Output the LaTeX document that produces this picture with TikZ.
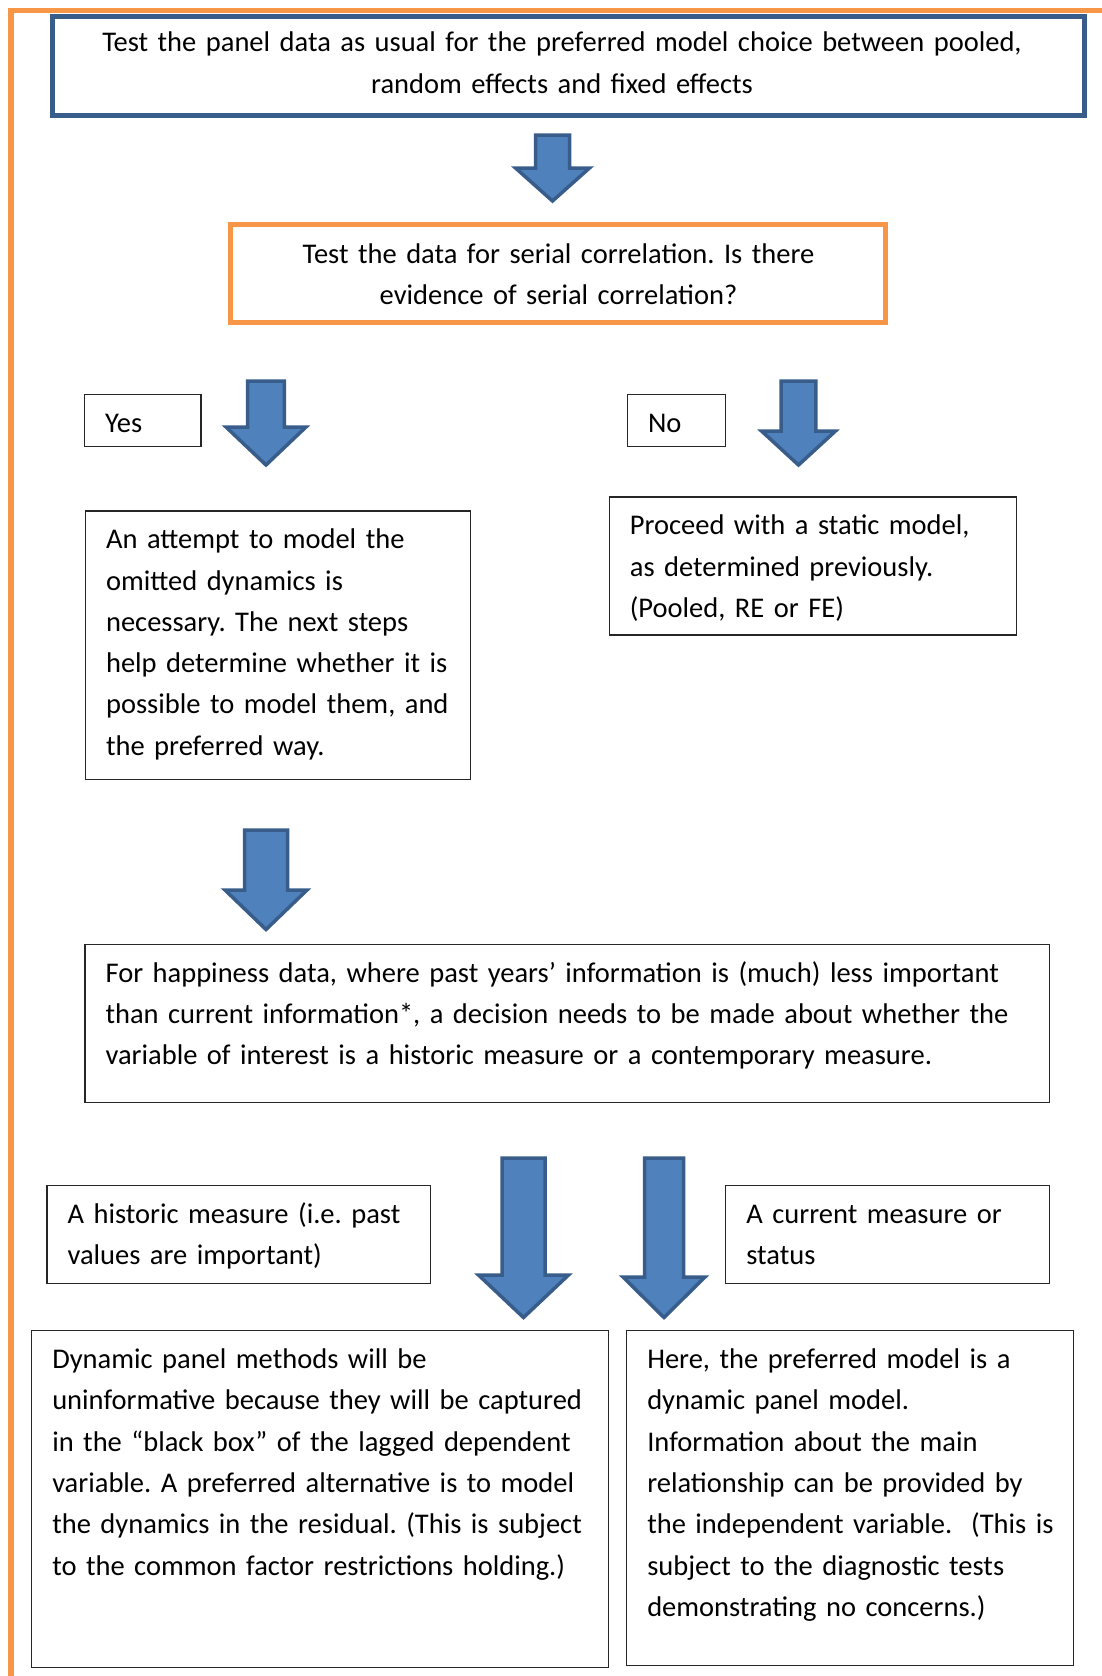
\documentclass[tikz,border=0pt]{standalone}
\usepackage{fontspec}
\setmainfont{Carlito}
\usetikzlibrary{calc}
\definecolor{pageorange}{HTML}{F79646}
\definecolor{darkblue}{HTML}{385D8A}
\definecolor{fillblue}{HTML}{4F81BD}
\tikzset{
  framebox/.style={draw=black!85, line width=1.3pt, rectangle, inner sep=0pt},
  bluebox/.style={draw=darkblue, line width=5pt, rectangle, inner sep=0pt},
  orangebox/.style={draw=pageorange, line width=5pt, rectangle, inner sep=0pt},
  txt/.style={inner sep=0pt, text width=1000pt, align=left, font=\fontsize{28.5}{41.3}\selectfont\frenchspacing},
  ctxt/.style={txt, align=center, anchor=base},
  blockarrow/.style={draw=darkblue, fill=fillblue, line width=3.5pt, line join=miter},
}
% box: style, name, x1, y1, x2, y2 (pixel coordinates, y downward)
\newcommand\boxat[6]{\node[#1, minimum width={(#5)-(#3)}, minimum height={(#6)-(#4)}] (#2) at ({((#3)+(#5))/2},{((#4)+(#6))/2}) {};}
% down block arrow: cx, top, headbase, tip, shaft half width, head half width
\newcommand\downblock[6]{\draw[blockarrow] ({#1-#5},#2) -- ({#1+#5},#2) -- ({#1+#5},#3) -- ({#1+#6},#3) -- (#1,#4) -- ({#1-#6},#3) -- ({#1-#5},#3) -- cycle;}
\begin{document}
\begin{tikzpicture}[x=1pt,y=-1pt]
\useasboundingbox (0,0) rectangle (1102,1676);
\begin{scope}
\clip (0,0) rectangle (1102,1676);
% page border (orange, top and left)
\draw[pageorange, line width=5.5pt, line join=miter] (11,1690) -- (11,10.7) -- (1110,10.7);
\end{scope}

% boxes
\boxat{bluebox}{top}{52}{16}{1084}{115}
\boxat{orangebox}{serial}{230.3}{224}{885}{322}
\boxat{framebox}{yes}{84.5}{394.5}{201}{446.5}
\boxat{framebox}{no}{627.5}{394.5}{725.8}{446.5}
\boxat{framebox}{attempt}{85.5}{511}{470.3}{779.2}
\boxat{framebox}{static}{609.3}{497}{1016.5}{635}
\boxat{framebox}{happy}{85}{944.3}{1049.7}{1102.7}
\boxat{framebox}{historic}{47}{1185.4}{430.8}{1283.7}
\boxat{framebox}{current}{725.8}{1185.4}{1049.7}{1283.7}
\boxat{framebox}{dynamic}{31.7}{1330.8}{608.2}{1667.3}
\boxat{framebox}{here}{626.7}{1330.8}{1073.3}{1665.7}

% texts
\node[ctxt] (ttop) at (562,51.7) {Test the panel data as usual for the preferred model choice between pooled,\\random effects and fixed effects};
\node[ctxt] (tserial) at (558.5,263.3) {Test the data for serial correlation. Is there\\evidence of serial correlation?};
\node[txt, anchor=base west] (tyes) at ($(yes.north west)+(21,38.2)$) {Yes};
\node[txt, anchor=base west] (tno) at ($(no.north west)+(21,38.2)$) {No};
\node[txt, anchor=base west] (tattempt) at ($(attempt.north west)+(21,38.4)$) {An attempt to model the\\omitted dynamics is\\necessary. The next steps\\help determine whether it is\\possible to model them, and\\the preferred way.};
\node[txt, anchor=base west] (tstatic) at ($(static.north west)+(21,38.4)$) {Proceed with a static model,\\as determined previously.\\(Pooled, RE or FE)};
\node[txt, anchor=base west] (thappy) at ($(happy.north west)+(21,38.4)$) {For happiness data, where past years’ information is (much) less important\\than current information*, a decision needs to be made about whether the\\variable of interest is a historic measure or a contemporary measure.};
\node[txt, anchor=base west] (thistoric) at ($(historic.north west)+(21,38.4)$) {A historic measure (i.e. past\\values are important)};
\node[txt, anchor=base west] (tcurrent) at ($(current.north west)+(21,38.4)$) {A current measure or\\status};
\node[txt, anchor=base west] (tdynamic) at ($(dynamic.north west)+(21,38.4)$) {Dynamic panel methods will be\\uninformative because they will be captured\\in the “black box” of the lagged dependent\\variable. A preferred alternative is to model\\the dynamics in the residual. (This is subject\\to the common factor restrictions holding.)};
\node[txt, anchor=base west] (there) at ($(here.north west)+(21,38.4)$) {Here, the preferred model is a\\dynamic panel model.\\Information about the main\\relationship can be provided by\\the independent variable.\ \ (This is\\subject to the diagnostic tests\\demonstrating no concerns.)};

% block arrows
\downblock{552.5}{135}{168}{201}{17}{37}
\downblock{266}{381}{427}{465}{18.3}{40}
\downblock{798.5}{381}{431}{465}{17.3}{37}
\downblock{266}{830}{890}{929.5}{21.5}{41}
\downblock{523.5}{1158}{1275}{1317.5}{21.5}{45}
\downblock{664}{1158}{1277}{1317.5}{19.5}{41}
\end{tikzpicture}
\end{document}
